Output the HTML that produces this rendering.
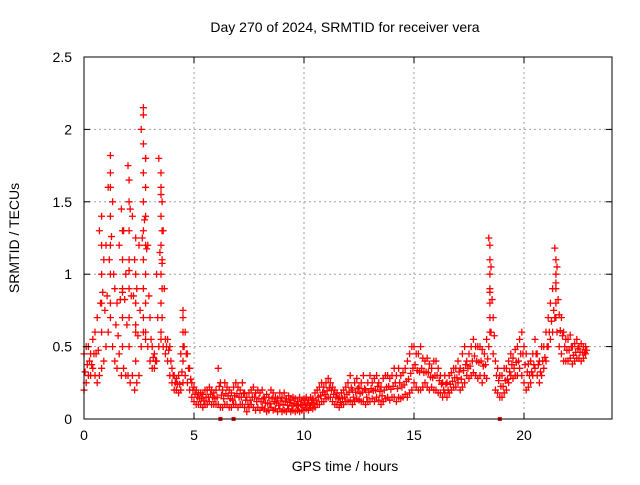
<!DOCTYPE html>
<html><head><meta charset="utf-8"><style>
body{margin:0;background:#fff;}
svg text{font-family:"Liberation Sans",sans-serif;font-size:14px;fill:#000;}
</style></head><body>
<svg id="chart" width="640" height="480" xmlns="http://www.w3.org/2000/svg">
<rect width="640" height="480" fill="#fff"/>
<text x="345" y="32" text-anchor="middle">Day 270 of 2024, SRMTID for receiver vera</text>
<text transform="translate(19,238) rotate(-90)" text-anchor="middle">SRMTID / TECUs</text>
<text x="345" y="471" text-anchor="middle">GPS time / hours</text>
<g id="grid"></g><g id="marks"></g><g id="axes"></g>
</svg>
<script>
const xTicks=[0,5,10,15,20];
const yTicks=[0,0.5,1,1.5,2,2.5];
const yTickLabels=["0","0.5","1","1.5","2","2.5"];
const t0=0, dt=0.1;
const lo=[.2,.25,.3,.3,.35,.3,.25,.3,.35,.4, .5,.6,.7,.5,.4,.35,.45,.3,.35,.3, .3,.25,.3,.2,.25,.3,.5,.6,.55,.5,
.4,.35,.35,.4,.5,.55,.5,.45,.4,.3, .25,.2,.2,.18,.2,.25,.3,.25,.2,.15, .12,.1,.1,.1,.08,.1,.1,.12,.1,.1,
.1,.1,.08,.08,.1,.1,.08,.08,.1,.1, .08,.1,.1,.08,.05,.08,.1,.08,.06,.08, .06,.08,.07,.05,.06,.08,.06,.07,.05,.07,
.05,.06,.05,.07,.05,.06,.05,.06,.05,.06, .06,.07,.06,.08,.07,.08,.1,.1,.12,.12, .14,.15,.15,.12,.1,.1,.08,.1,.1,.12,
.12,.13,.1,.12,.14,.13,.12,.12,.1,.12, .12,.14,.12,.15,.13,.1,.12,.14,.15,.13, .15,.15,.12,.15,.14,.15,.17,.15,.18,.2,
.25,.22,.2,.2,.22,.25,.22,.2,.22,.2, .2,.18,.18,.15,.18,.15,.18,.2,.22,.22, .25,.2,.22,.25,.3,.28,.3,.32,.3,.28,
.3,.25,.3,.28,.5,.6,.45,.2,.18,.15, .15,.18,.2,.25,.3,.28,.3,.3,.35,.3, .25,.2,.22,.25,.3,.35,.3,.25,.3,.35,
.4,.5,.55,.6,.7,.6,.5,.45,.4,.4, .4,.42,.38,.4,.42,.42,.4,.42,.45];
const hi=[.45,.5,.5,.45,.55,.6,.7,1.3,1.4,1.1, 1.2,1.6,1.82,1.5,.9,.8,1.2,1.45,1.3,1.0, 1.75,1.45,1.4,1.1,.9,1.2,2.0,2.15,1.8,1.2,
.7,.5,.45,1.0,1.8,1.6,1.3,.55,.55,.5, .35,.3,.28,.3,.45,.75,.6,.45,.35,.25, .22,.2,.18,.18,.17,.2,.2,.22,.2,.18,
.2,.35,.25,.2,.25,.22,.2,.18,.22,.25, .22,.2,.25,.18,.15,.18,.2,.22,.18,.2, .18,.2,.15,.17,.15,.2,.18,.15,.14,.18,
.15,.18,.14,.16,.13,.15,.14,.12,.15,.13, .14,.15,.13,.15,.14,.18,.2,.22,.25,.22, .25,.28,.25,.22,.2,.18,.15,.18,.2,.22,
.25,.3,.2,.25,.28,.22,.25,.3,.2,.25, .3,.25,.28,.3,.25,.22,.28,.3,.3,.28, .3,.35,.3,.35,.3,.32,.35,.4,.45,.5,
.5,.45,.45,.5,.42,.4,.42,.38,.35,.4, .4,.35,.3,.25,.3,.25,.3,.32,.35,.35, .4,.35,.45,.5,.4,.45,.5,.55,.5,.5,
.5,.48,.45,.55,1.25,1.05,.7,.4,.35,.3, .3,.35,.35,.4,.45,.42,.48,.5,.55,.6, .5,.45,.38,.4,.45,.55,.45,.4,.5,.5,
.6,.7,.8,.9,1.18,1.05,.72,.7,.6,.55, .55,.58,.5,.52,.55,.5,.52,.5,.5];
const spikeT=[0.8,0.8,0.8,0.8, 1.2,1.2,1.2,1.2,1.2,1.2, 1.75,1.75,1.75,1.75,1.75,
2.05,2.05,2.05,2.05,2.05,2.05,2.05, 2.35,2.35,2.35,2.35,2.35,
2.7,2.7,2.7,2.7,2.7,2.7,2.7,2.7, 2.8,2.8,2.8,2.8,2.8,2.8,2.8,
3.5,3.5,3.5,3.5,3.5,3.5,3.5, 3.55,3.55,3.55,3.55,3.55, 4.5,4.5,4.5,4.5,
18.45,18.45,18.45,18.45,18.45,18.45,18.45, 21.45,21.45,21.45,21.45,21.45];
const spikeV=[.6,.8,1.0,1.2, .8,1.0,1.2,1.4,1.6,1.7, .5,.7,.9,1.1,1.3,
.5,.7,.9,1.1,1.3,1.5,1.65, .4,.6,.8,1.0,1.25,
.7,.9,1.1,1.3,1.5,1.7,1.9,2.1, .6,.8,1.0,1.2,1.4,1.6,1.8,
.6,.8,1.0,1.2,1.4,1.55,1.7, .7,.9,1.1,1.3,1.5, .4,.5,.6,.7,
.6,.7,.8,.9,1.0,1.1,1.2, .7,.8,.9,1.0,1.1];
const zeroMarksT=[6.2,6.8,18.9];
const X0=84,X1=612,Y0=419,Y1=57,XMAX=24,YMAX=2.5;
const sx=v=>X0+(X1-X0)*v/XMAX, sy=v=>Y0-(Y0-Y1)*v/YMAX;
const NS="http://www.w3.org/2000/svg";
function mk(tag,attrs,parent){const e=document.createElementNS(NS,tag);for(const k in attrs)e.setAttribute(k,attrs[k]);parent.appendChild(e);return e;}
const grid=document.getElementById('grid'),marks=document.getElementById('marks'),axes=document.getElementById('axes');
xTicks.forEach(v=>{
 if(v>0){const g=mk('line',{x1:sx(v),x2:sx(v),y1:Y0,y2:Y1,stroke:'#a0a0a0','stroke-dasharray':'2,3'},grid);
 
 }
 const a=mk('line',{x1:sx(v),x2:sx(v),y1:Y0,y2:Y0-6,stroke:'#000'},axes);
 
 
 const b=mk('line',{x1:sx(v),x2:sx(v),y1:Y1,y2:Y1+6,stroke:'#000'},axes);
 
 
 const t=mk('text',{x:sx(v),y:Y0+21,'text-anchor':'middle'},axes);t.textContent=String(v);
 
 
});
yTicks.forEach((v,i)=>{
 if(v>0&&v<YMAX){const g=mk('line',{x1:X0,x2:X1,y1:sy(v),y2:sy(v),stroke:'#a0a0a0','stroke-dasharray':'2,3'},grid);
 
 }
 const a=mk('line',{x1:X0,x2:X0+6,y1:sy(v),y2:sy(v),stroke:'#000'},axes);
 
 
 const b=mk('line',{x1:X1,x2:X1-6,y1:sy(v),y2:sy(v),stroke:'#000'},axes);
 
 
 const t=mk('text',{x:X0-12,y:sy(v)+5,'text-anchor':'end'},axes);t.textContent=yTickLabels[i];
 
 
});
const frame=mk('rect',{x:X0,y:Y1,width:X1-X0,height:Y0-Y1,fill:'none',stroke:'#000'},axes);


function plus(x,y){const p=mk('path',{d:`M${x-3.5},${y}h7M${x},${y-3.5}v7`,stroke:'#f00','stroke-width':1.3},marks);
 
 }
lo.forEach((l,i)=>{const t=t0+i*dt,h=hi[i];
 plus(sx(t),sy(l));plus(sx(t),sy(h));plus(sx(t+dt/2),sy((l+h)/2));});
spikeT.forEach((t,i)=>plus(sx(t),sy(spikeV[i])));
zeroMarksT.forEach(t=>{const r=mk('rect',{x:sx(t)-2,y:Y0-2,width:4,height:4,fill:'#f00'},marks);
 
 });
</script>
</body></html>
